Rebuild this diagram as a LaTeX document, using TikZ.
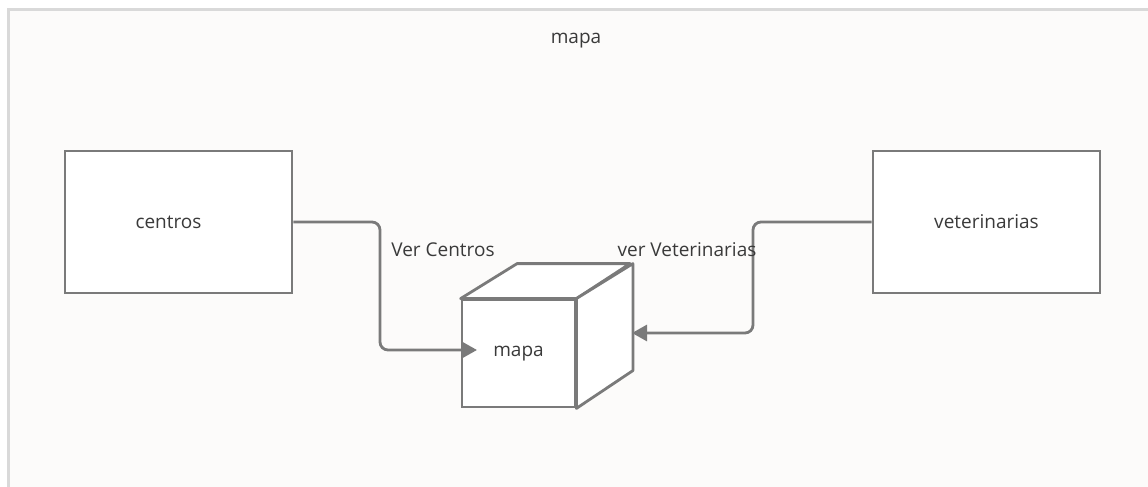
\documentclass[tikz,border=0pt]{standalone}
\usepackage{fontspec}
\setmainfont{Open Sans}
\usetikzlibrary{arrows.meta}
\usetikzlibrary{positioning}

\definecolor{linegray}{HTML}{7A7A7A}
\definecolor{framegray}{HTML}{D9D9D9}
\definecolor{paper}{HTML}{FCFBFA}
\definecolor{textgray}{HTML}{3A3A3A}

\begin{document}
\begin{tikzpicture}[
	x=0.5pt, y=-0.5pt,
  > = {Triangle[length=7.5pt,width=8pt]},
  every node/.style = {font=\fontsize{9.5}{11}\selectfont, text=textgray},
  box/.style = {draw=linegray, line width=1.4pt, fill=white, minimum width=113.5pt, minimum height=71pt, inner sep=0pt},
  face/.style = {draw=linegray, line width=1.4pt, fill=white, line join=round},
  link/.style = {draw=linegray, line width=1.4pt, rounded corners=4pt, ->}
  ]
	\useasboundingbox (0,0) rectangle (1148,487);
	\fill[white] (0,0) rectangle (1148,487);
	\fill[paper] (8,9) rectangle (1148,487);
	\draw[framegray, line width=1.4pt] (8.5,487) |- (1148,9.5);

	\node (titulo) at (576,41) {mapa};

	\node[box,label={[xshift=-5pt]center:centros}] (centros) at (178.5,222) {};
	\node[box] (veterinarias) at (986.5,222) {veterinarias};

	% cubo
	\node[box, minimum width=56.5pt, minimum height=53.5pt] (mapa) at (518.5,353.5) {mapa};
	\draw[face] (mapa.north west) -- ++(56.5,-35) -- ++(113,0) -- (mapa.north east) -- cycle;
	\draw[face] (mapa.north east) -- ++(56.5,-35) -- ++(0,107) -- (mapa.south east) -- cycle;

	\coordinate (codoA) at (380,222);
	\coordinate (codoB) at (753,222);
	\coordinate (entrada) at (462,350);
	\coordinate (lado) at (632,333);

  	\draw[link, shorten >=-7.5pt] (centros.east) -- (codoA) |- (entrada);
	\draw[link] (veterinarias.west) -- (codoB) |- (lado);

	\node at (443,250) {Ver Centros};
	\node at (687,250) {ver Veterinarias};

\end{tikzpicture}
\end{document}
